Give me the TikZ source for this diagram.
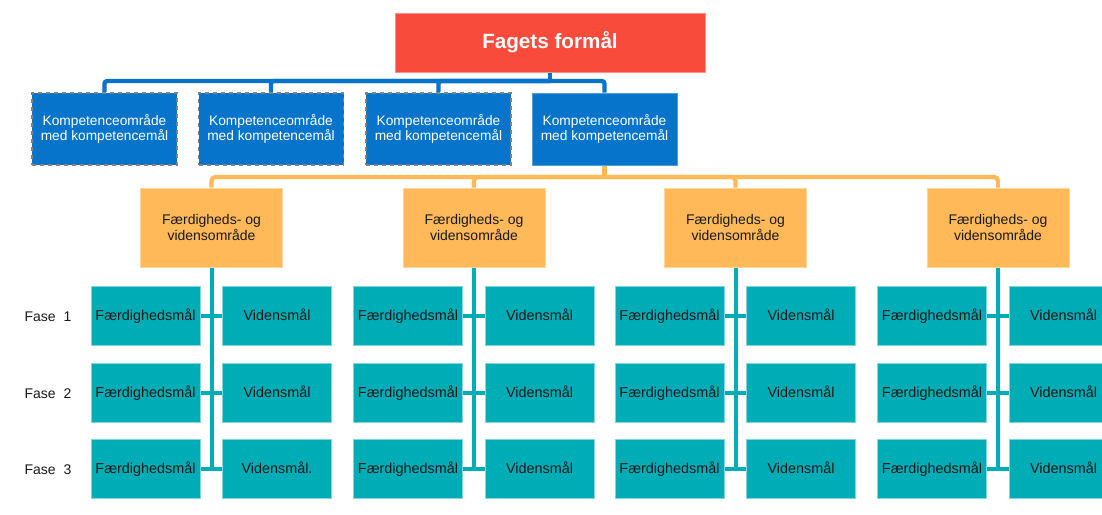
\documentclass[tikz,border=0pt]{standalone}
\usepackage{fontspec}
\setmainfont{Liberation Sans}
\usetikzlibrary{backgrounds}
\definecolor{cred}{RGB}{248,75,60}
\definecolor{cblue}{RGB}{5,116,202}
\definecolor{corange}{RGB}{255,185,88}
\definecolor{cteal}{RGB}{0,173,183}
\definecolor{ctext}{RGB}{25,25,25}
\definecolor{cdash}{RGB}{130,130,130}
\tikzset{
  topbox/.style={rectangle, fill=cred, draw=cred!60!white, line width=0.6pt, minimum width=232.5pt, minimum height=44.25pt, text=white, font=\fontsize{15.5pt}{18pt}\selectfont\bfseries, inner sep=0pt},
  kbox/.style={rectangle, fill=cblue, minimum width=108.75pt, minimum height=54pt, text=white, font=\fontsize{10.3pt}{11.25pt}\selectfont, align=center, inner sep=0pt},
  kdash/.style={kbox, draw=cdash, dashed, line width=1.3pt},
  ksolid/.style={kbox, draw=cblue!70!white, line width=0.6pt},
  obox/.style={rectangle, fill=corange, draw=corange!60!white, line width=0.6pt, minimum width=106.5pt, minimum height=59.25pt, text=ctext, font=\fontsize{10.5pt}{10.4pt}\selectfont, align=center, inner sep=0pt},
  tbox/.style={rectangle, fill=cteal, draw=cteal!50!white, line width=0.6pt, minimum width=81.75pt, minimum height=44.25pt, text=ctext, font=\fontsize{10.8pt}{12pt}\selectfont, inner sep=0pt, text height=0.716em, text depth=0pt},
  faselbl/.style={text=ctext, font=\fontsize{10.5pt}{12pt}\selectfont, inner sep=0pt, text height=0.716em, text depth=0pt},
  bluel/.style={draw=cblue, line width=3.2pt, rounded corners=2pt},
  orangel/.style={draw=corange, line width=3.2pt, rounded corners=3pt},
  teall/.style={draw=cteal, line width=3pt},
}
\begin{document}
\begin{tikzpicture}[x=0.75pt, y=-0.75pt]
\useasboundingbox (0,0) rectangle (1102,514);
\begin{scope}
\clip (0,0) rectangle (1102,514);
\node[topbox] (top) at (550,42.5) {Fagets formål};
\node[kdash] (k1) at (104.5,129) {Kompetenceområde\\med kompetencemål};
\node[kdash] (k2) at (271,129) {Kompetenceområde\\med kompetencemål};
\node[kdash] (k3) at (438.5,129) {Kompetenceområde\\med kompetencemål};
\node[ksolid] (k4) at (604.5,129) {Kompetenceområde\\med kompetencemål};
\foreach \g/\x in {1/211.5, 2/474, 3/735.5, 4/998}{
  \node[obox] (o\g) at (\x,227.5) {Færdigheds- og\\vidensområde};
  \foreach \r/\y in {1/315.5, 2/392.5, 3/468.5}{
    \node[tbox] (l\g\r) at (\x-66,\y) {Færdighedsmål};
  }
}
\foreach \g/\x in {1/211.5, 2/474, 3/735.5, 4/998}{
  \foreach \r/\y in {1/315.5, 2/392.5}{
    \node[tbox] (r\g\r) at (\x+65.5,\y) {Vidensmål};
  }
}
\node[tbox] (r13) at (211.5+65.5,468.5) {Vidensmål.};
\node[tbox] (r23) at (474+65.5,468.5) {Vidensmål};
\node[tbox] (r33) at (735.5+65.5,468.5) {Vidensmål};
\node[tbox] (r43) at (998+65.5,468.5) {Vidensmål};
\node[faselbl] (f1) at (48,316.5) {Fase\ \ 1};
\node[faselbl] (f2) at (48,393.5) {Fase\ \ 2};
\node[faselbl] (f3) at (48,469.5) {Fase\ \ 3};
\coordinate (hub1) at (550,81);
\coordinate (hub2) at (604.5,177);
\begin{scope}[on background layer]
  \draw[bluel] (top.south) -- (hub1);
  \foreach \i in {1,...,4}{ \draw[bluel] (k\i.north) |- (hub1); }
  \draw[orangel] (k4.south) -- (hub2);
  \foreach \g in {1,...,4}{ \draw[orangel] (o\g.north) |- (hub2); }
  \foreach \g in {1,...,4}{
    \draw[teall] (o\g.south) -- (o\g.south |- l\g3.east);
    \foreach \r in {1,2,3}{ \draw[teall] (l\g\r.east) -- (r\g\r.west); }
  }
\end{scope}
\end{scope}
\end{tikzpicture}
\end{document}
